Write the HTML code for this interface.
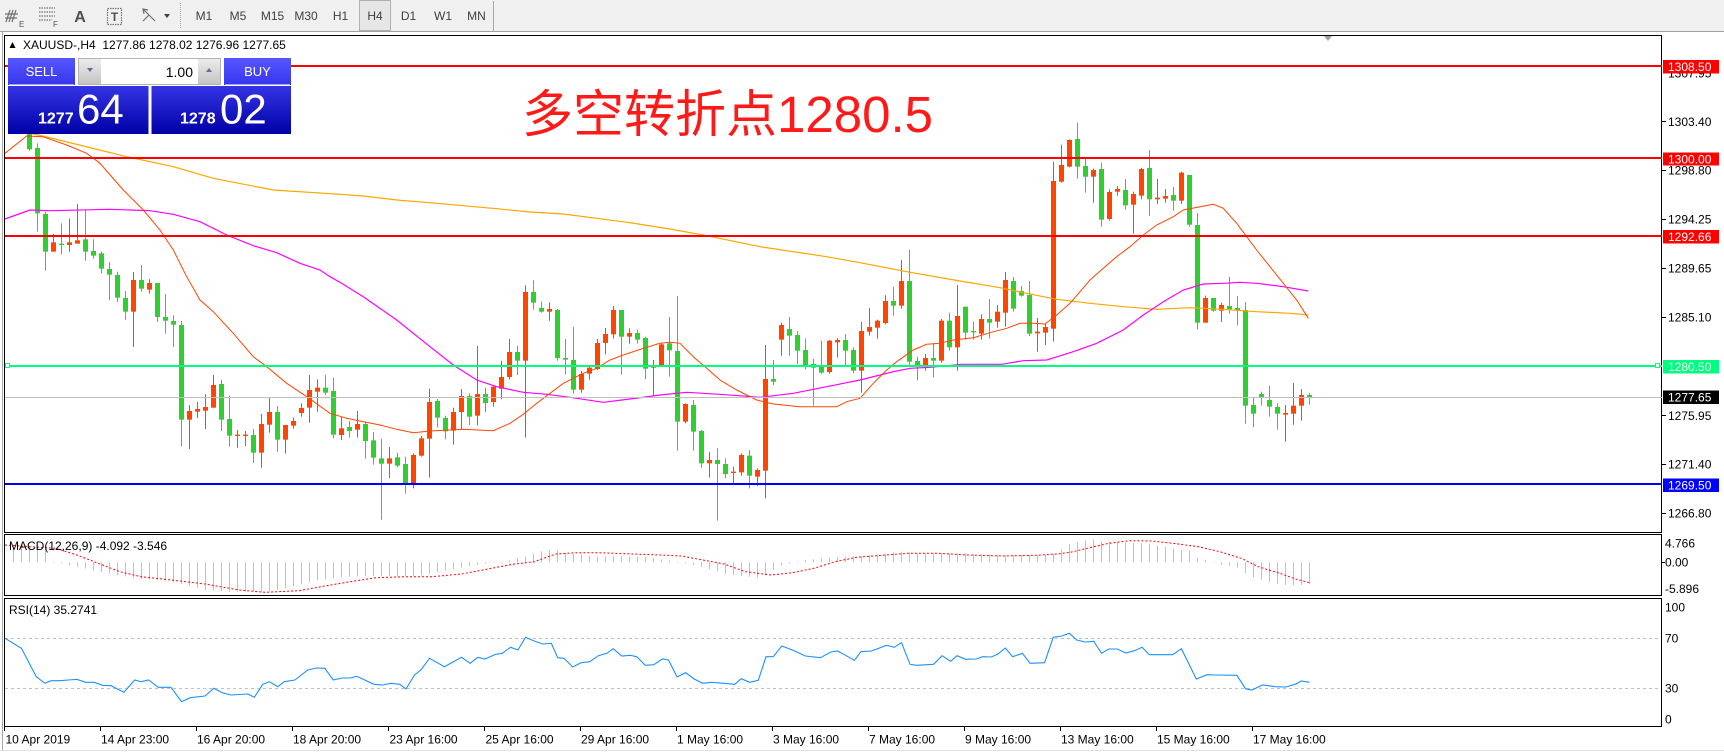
<!DOCTYPE html>
<html><head><meta charset="utf-8">
<style>
html,body{margin:0;padding:0;background:#fff;width:1724px;height:753px;overflow:hidden}
svg{position:absolute;left:0;top:0;font-family:"Liberation Sans","Noto Sans CJK SC",sans-serif}
</style></head>
<body>
<svg id="s" width="1724" height="753" viewBox="0 0 1724 753" xmlns="http://www.w3.org/2000/svg">
<defs>
<linearGradient id="gb" x1="0" y1="0" x2="0" y2="1"><stop offset="0" stop-color="#5656ff"/><stop offset="1" stop-color="#3636ee"/></linearGradient>
<linearGradient id="gp" x1="0" y1="0" x2="0" y2="1"><stop offset="0" stop-color="#3434e4"/><stop offset="1" stop-color="#0000a6"/></linearGradient>
<linearGradient id="gs" x1="0" y1="0" x2="0" y2="1"><stop offset="0" stop-color="#ececec"/><stop offset="1" stop-color="#c4c4c4"/></linearGradient>
</defs>
<rect x="0" y="0" width="1724" height="753" fill="#fff"/>
<!-- toolbar -->
<rect x="0" y="0" width="1724" height="31" fill="#f0f0f0"/>
<line x1="0" y1="31.5" x2="1724" y2="31.5" stroke="#a0a0a0"/>
<g stroke="#707070" fill="none" stroke-width="1.2">
<path d="M6 22 L10 10 M9 22 L13 10 M12 22 L16 10 M5 14 L18 14 M5 18 L17 18"/>
<path d="M39 8 H55 M39 12 H55 M39 16 H55 M39 20 H52" stroke-dasharray="1.5,1"/>
<rect x="107.5" y="8.5" width="14" height="16" stroke-dasharray="1.5,1"/>
<path d="M143 9 L149 15 L155 21 M143 21 L149 15 M148 10 L143 9 L144 14"/>
</g>
<text x="19" y="27" font-size="8" fill="#505050">E</text>
<text x="53" y="27" font-size="8" fill="#505050">F</text>
<text x="80" y="22" font-size="16" fill="#505050" text-anchor="middle" font-weight="bold">A</text>
<text x="114.5" y="21" font-size="12" fill="#505050" text-anchor="middle" font-weight="bold">T</text>
<path d="M164 14 L170 14 L167 18 Z" fill="#404040"/>
<line x1="180.5" y1="3" x2="180.5" y2="29" stroke="#a8a8a8" stroke-dasharray="1,1"/>
<line x1="493.5" y1="1" x2="493.5" y2="31" stroke="#a8a8a8"/>
<rect x="359.5" y="0.5" width="31" height="30" fill="#e6e6e6" stroke="#b0b0b0"/>
<g font-size="12" fill="#404040" text-anchor="middle">
<text x="204" y="20">M1</text><text x="238" y="20">M5</text><text x="272.5" y="20">M15</text><text x="306" y="20">M30</text><text x="340.5" y="20">H1</text><text x="375" y="20">H4</text><text x="408.5" y="20">D1</text><text x="443" y="20">W1</text><text x="476.5" y="20">MN</text>
</g>
<!-- frames -->
<line x1="2.5" y1="32" x2="2.5" y2="750" stroke="#a8a8a8"/>
<line x1="0" y1="750.5" x2="1724" y2="750.5" stroke="#e0e0e0"/>
<rect x="4.5" y="35.5" width="1657" height="497" fill="none" stroke="#000"/>
<rect x="4.5" y="534.5" width="1657" height="61" fill="none" stroke="#000"/>
<rect x="4.5" y="598.5" width="1657" height="128" fill="none" stroke="#000"/>
<line x1="5" y1="638.5" x2="1661" y2="638.5" stroke="#c0c0c0" stroke-dasharray="3,3"/>
<line x1="5" y1="688.5" x2="1661" y2="688.5" stroke="#c0c0c0" stroke-dasharray="3,3"/>
<path d="M1324 36 L1332 36 L1328 41 Z" fill="#a0a0a0"/>
<g id="dyn"></g>
<!-- horizontal objects -->
<rect x="5" y="65" width="1657" height="2" fill="#ff0000"/>
<rect x="5" y="157" width="1657" height="2" fill="#ff0000"/>
<rect x="5" y="235" width="1657" height="2" fill="#ff0000"/>
<rect x="5" y="365" width="1657" height="2" fill="#00ff7f"/>
<line x1="5" y1="397.5" x2="1662" y2="397.5" stroke="#c0c0c0"/>
<rect x="5" y="483" width="1657" height="2" fill="#0000ff"/>
<rect x="5.5" y="363.5" width="4" height="4" fill="#fff" stroke="#00ff7f"/>
<rect x="1655.5" y="363.5" width="4" height="4" fill="#fff" stroke="#00ff7f"/>
<!-- price axis -->
<g stroke="#000">
<line x1="1662" y1="121.5" x2="1666" y2="121.5"/><line x1="1662" y1="170.5" x2="1666" y2="170.5"/><line x1="1662" y1="219.5" x2="1666" y2="219.5"/><line x1="1662" y1="268.5" x2="1666" y2="268.5"/><line x1="1662" y1="317.5" x2="1666" y2="317.5"/><line x1="1662" y1="415.5" x2="1666" y2="415.5"/><line x1="1662" y1="464.5" x2="1666" y2="464.5"/><line x1="1662" y1="513.5" x2="1666" y2="513.5"/>
<line x1="1662" y1="562.5" x2="1665" y2="562.5"/>
</g>
<g font-size="12" fill="#000">
<text x="1668" y="77.5">1307.95</text>
<text x="1668" y="126">1303.40</text>
<text x="1668" y="174.5">1298.80</text>
<text x="1668" y="223.5">1294.25</text>
<text x="1668" y="272.5">1289.65</text>
<text x="1668" y="321.5">1285.10</text>
<text x="1668" y="420">1275.95</text>
<text x="1668" y="468.5">1271.40</text>
<text x="1668" y="517.5">1266.80</text>
<text x="1665" y="547.5">4.766</text>
<text x="1665" y="566.5">0.00</text>
<text x="1665" y="593">-5.896</text>
<text x="1665" y="611.5">100</text>
<text x="1665" y="642.5">70</text>
<text x="1665" y="692.5">30</text>
<text x="1665" y="723.5">0</text>
</g>
<rect x="1663" y="60" width="56" height="13.5" fill="#ff0000"/>
<rect x="1663" y="152.5" width="56" height="13" fill="#ff0000"/>
<rect x="1663" y="230" width="56" height="13.5" fill="#ff0000"/>
<rect x="1663" y="360" width="56" height="13.5" fill="#00ff7f"/>
<rect x="1663" y="390.5" width="56" height="13.5" fill="#000"/>
<rect x="1663" y="478.5" width="56" height="13.5" fill="#0000ff"/>
<g font-size="12" fill="#fff">
<text x="1668" y="71">1308.50</text>
<text x="1668" y="163.5">1300.00</text>
<text x="1668" y="241">1292.66</text>
<text x="1668" y="371">1280.50</text>
<text x="1668" y="401.5">1277.65</text>
<text x="1668" y="489.5">1269.50</text>
</g>
<!-- time axis -->
<g stroke="#000">
<line x1="4.5" y1="727" x2="4.5" y2="731"/><line x1="100.5" y1="727" x2="100.5" y2="731"/><line x1="196.5" y1="727" x2="196.5" y2="731"/><line x1="292.5" y1="727" x2="292.5" y2="731"/><line x1="388.5" y1="727" x2="388.5" y2="731"/><line x1="484.5" y1="727" x2="484.5" y2="731"/><line x1="580.5" y1="727" x2="580.5" y2="731"/><line x1="676.5" y1="727" x2="676.5" y2="731"/><line x1="772.5" y1="727" x2="772.5" y2="731"/><line x1="868.5" y1="727" x2="868.5" y2="731"/><line x1="964.5" y1="727" x2="964.5" y2="731"/><line x1="1060.5" y1="727" x2="1060.5" y2="731"/><line x1="1156.5" y1="727" x2="1156.5" y2="731"/><line x1="1252.5" y1="727" x2="1252.5" y2="731"/>
</g>
<g font-size="12" fill="#000">
<text x="5.5" y="743.5">10 Apr 2019</text>
<text x="101" y="743.5">14 Apr 23:00</text>
<text x="197" y="743.5">16 Apr 20:00</text>
<text x="293" y="743.5">18 Apr 20:00</text>
<text x="389.5" y="743.5">23 Apr 16:00</text>
<text x="485.5" y="743.5">25 Apr 16:00</text>
<text x="581" y="743.5">29 Apr 16:00</text>
<text x="677" y="743.5">1 May 16:00</text>
<text x="773" y="743.5">3 May 16:00</text>
<text x="869" y="743.5">7 May 16:00</text>
<text x="965" y="743.5">9 May 16:00</text>
<text x="1061" y="743.5">13 May 16:00</text>
<text x="1157" y="743.5">15 May 16:00</text>
<text x="1253" y="743.5">17 May 16:00</text>
</g>
<!-- indicator labels -->
<text x="9" y="550" font-size="12" fill="#000">MACD(12,26,9) -4.092 -3.546</text>
<text x="9" y="614" font-size="12" fill="#000">RSI(14) 35.2741</text>
<!-- title -->
<path d="M9.5 48 L15.5 48 L12.5 42 Z" fill="#000"/>
<text x="23" y="49" font-size="12" fill="#000" xml:space="preserve">XAUUSD-,H4  1277.86 1278.02 1276.96 1277.65</text>
<!-- trade panel -->
<rect x="8" y="58" width="283" height="76" fill="#fff"/>
<rect x="8" y="58" width="67" height="27" fill="url(#gb)"/>
<line x1="9" y1="84.5" x2="74" y2="84.5" stroke="#a0a0ff"/>
<rect x="224" y="58" width="67" height="27" fill="url(#gb)"/>
<line x1="225" y1="84.5" x2="290" y2="84.5" stroke="#a0a0ff"/>
<text x="41.5" y="76" font-size="13" fill="#fff" text-anchor="middle">SELL</text>
<text x="257.5" y="76" font-size="13" fill="#fff" text-anchor="middle">BUY</text>
<rect x="78.5" y="58.5" width="142" height="26" fill="#fff" stroke="#b4b4b4"/>
<rect x="79" y="59" width="22" height="25" fill="url(#gs)"/>
<rect x="198" y="59" width="22" height="25" fill="url(#gs)"/>
<path d="M87 68 L93 68 L90 72 Z" fill="#6a6a9a"/>
<path d="M206 72 L212 72 L209 68 Z" fill="#6a6a9a"/>
<text x="193" y="77" font-size="14" fill="#000" text-anchor="end">1.00</text>
<rect x="8" y="86" width="140.5" height="48" fill="url(#gp)"/>
<rect x="151.5" y="86" width="139.5" height="48" fill="url(#gp)"/>
<text x="38" y="123.5" font-size="16" font-weight="bold" fill="#fff">1277</text>
<text x="77" y="123.5" font-size="42" fill="#fff">64</text>
<text x="180" y="123.5" font-size="16" font-weight="bold" fill="#fff">1278</text>
<text x="220" y="123.5" font-size="42" fill="#fff">02</text>
<!-- annotation -->
<text x="522" y="132" font-size="51" fill="#ff1a1a" font-family="'Liberation Sans','Noto Sans CJK SC',sans-serif">多空转折点1280.5</text>
</svg>
<script>
(function(){
var NS='http://www.w3.org/2000/svg',g=document.getElementById('dyn');
function el(t,a){var e=document.createElementNS(NS,t);for(var k in a)e.setAttribute(k,a[k]);g.appendChild(e);return e;}
function poly(p,col,w,dash){var s=p.map(function(q){return q[0]+','+q[1]}).join(' ');var a={points:s,fill:'none',stroke:col,'stroke-width':w||1};if(dash)a['stroke-dasharray']=dash;el('polyline',a);}
function interp(p,x){if(x<=p[0][0])return p[0][1];for(var k=1;k<p.length;k++){if(x<=p[k][0]){var a=p[k-1],b=p[k];return a[1]+(b[1]-a[1])*(x-a[0])/(b[0]-a[0]);}}return p[p.length-1][1];}
var C=[
[0,60,60,118,122],[0,100,114,310,365],[0,305,312,425,482],[1,372,397,425,425],[0,340,401,405,432],[1,326,397,405,425],[1,282,391,401,401],[0,300,388,425,452],[0,388,423,437,446],[0,425,430,476,490],
[0,456,477,494,570],[0,485,495,563,576],[0,543,564,605,629],[1,486,510,605,711],[0,465,510,536,545],[1,508,519,539,551],[0,519,519,621,636],[0,552,621,632,671],[0,616,633,644,711],[0,633,645,929,1008],
[1,885,903,929,1017],[1,876,897,905,924],[1,853,891,902,957],[1,795,825,893,893],[0,810,822,929,963],[0,857,927,977,1010],[1,960,974,977,1013],[1,963,974,977,1008],[0,957,975,1028,1059],[1,912,942,1028,1073],
[1,863,906,944,968],[0,888,906,989,1025],[1,945,945,989,1031],[1,923,933,947,956],[1,880,894,909,920],[1,795,840,893,938],[1,808,833,845,905],[0,795,833,848,855],[0,804,843,974,985],[1,920,955,975,990],
[0,933,951,963,983],[1,903,942,959,983],[0,935,942,993,1046],[0,966,991,1043,1064],[0,987,1045,1061,1229],[1,1011,1045,1061,1104],[0,1028,1042,1067,1072],[0,1040,1062,1121,1151],[1,1030,1035,1119,1135],[1,978,985,1037,1040],
[1,836,876,986,1103],[0,867,873,923,952],[0,917,924,964,988],[1,893,906,962,1004],[1,837,858,906,958],[0,850,858,920,945],[1,708,852,917,946],[0,833,852,879,907],[1,826,830,876,890],[1,753,801,836,868],
[1,687,726,801,808],[0,708,726,752,795],[1,526,546,752,983],[0,511,546,578,599],[0,575,594,605,608],[1,577,597,605,632],[0,597,600,744,752],[0,687,744,749,793],[0,651,750,839,851],[1,783,792,839,848],
[1,765,773,791,809],[1,687,699,777,780],[1,654,672,699,733],[1,588,600,673,686],[0,600,600,680,794],[1,655,669,680,701],[0,659,669,689,701],[0,680,684,776,808],[1,750,765,773,858],[1,700,703,767,770],
[0,621,700,721,800],[0,558,723,935,1022],[1,880,882,935,940],[0,870,885,965,1022],[0,960,963,1060,1073],[1,1025,1050,1060,1103],[0,1015,1050,1062,1232],[0,1045,1062,1092,1105],[1,1070,1085,1088,1120],[1,1030,1035,1087,1097],
[0,1020,1037,1097,1135],[1,1075,1080,1100,1128],[1,705,807,1082,1165],[0,750,807,815,825],[1,638,645,689,737],[0,621,657,677,737],[0,663,675,722,762],[0,685,720,767,778],[0,747,762,773,887],[0,692,767,788,791],
[1,690,692,786,791],[1,685,690,697,743],[0,672,690,722,765],[0,712,720,782,790],[1,636,663,782,848],[1,594,651,665,677],[1,629,632,653,686],[1,556,573,639,643],[0,531,573,587,617],[1,450,513,587,596],
[0,420,513,755,770],[0,740,753,765,811],[1,732,744,765,782],[0,700,744,752,802],[1,627,632,752,758],[0,608,632,712,722],[1,525,618,712,782],[0,590,590,668,689],[0,635,663,667,689],[1,613,627,671,689],
[0,567,627,638,686],[1,585,605,635,653],[1,486,510,608,650],[0,501,513,596,605],[0,528,543,557,560],[0,513,555,671,678],[1,624,665,670,725],[1,640,651,668,705],[1,155,213,656,695],[1,104,165,215,218],
[1,88,90,170,172],[0,38,87,170,206],[0,145,168,200,248],[1,176,180,200,278],[0,158,177,329,350],[1,238,246,327,332],[1,228,237,245,257],[0,207,240,286,299],[1,245,252,284,371],[1,174,177,257,268],
[0,120,174,268,318],[1,207,263,268,282],[1,237,258,266,278],[0,231,255,272,302],[1,185,188,272,282],[0,195,195,344,350],[0,309,345,638,658],[1,557,564,638,638],[0,564,564,602,605],[1,578,585,602,636],
[0,500,588,598,611],[0,558,594,602,646],[0,576,600,887,941],[0,862,885,911,952],[0,845,852,862,887],[0,828,870,890,920],[0,879,891,911,959],[1,885,909,914,995],[1,819,887,911,944],[1,837,855,887,932],
[0,849,855,862,884]];
function Y(v){return 110+v/3;}
C.forEach(function(d,i){
 var x=29+8*i,col=d[0]?'#ff4500':'#32cd32';
 var wt=Y(d[1]),wb=Y(d[4]),bt=Y(d[2]),bb=Y(d[3]);
 if(bb-bt<1.3)bb=bt+1.3;
 el('rect',{x:x,y:wt,width:1,height:Math.max(1,wb-wt),fill:col});
 el('rect',{x:x-2,y:bt,width:5,height:bb-bt,fill:col});
});
// moving averages
poly([[29,133],[42.7,136],[126.7,156.7],[173.3,166.7],[213.3,178.3],[273.3,190],[340,194.3],[363.3,196],[396.7,200],[436.7,203.3],[496.7,208.7],[530,212],[563.3,214],[596.7,218.3],[630,222.7],[670,229],[706.7,235.7],[760,246.7],[826.7,256.7],[860,262.7],[906.7,271.7],[960,281],[1000,287.7],[1023.3,292.7],[1056.7,299.3],[1090,303.3],[1123.3,306.7],[1156.7,309.3],[1190,307.7],[1223.3,309.3],[1256.7,311.7],[1290,313.3],[1308.3,315]],'#ffa500',1.2);
poly([[5,219],[30,210],[50,210.7],[110,209.3],[150,210.7],[173.3,214.3],[200,221.7],[226.7,235],[253.3,245.7],[276.7,252.7],[300,263.3],[320,270],[330,276.7],[340,282.3],[363.3,296.7],[396.7,320],[430,346.7],[453.3,365],[476.7,380],[496.7,386.7],[523.3,392.3],[546.7,394.3],[570,397.3],[603.3,402.3],[630,399],[660,395],[686.7,392.3],[720,394.3],[760,397.3],[793.3,393.3],[826.7,386.7],[860,380],[893.3,371.7],[910,368.3],[930,367.3],[961.7,364.3],[1001.7,364.3],[1023.3,360.7],[1046.7,360],[1073.3,351.7],[1096.7,343.3],[1123.3,330],[1143.3,315],[1163.3,301.7],[1183.3,290],[1203.3,284],[1223.3,283.3],[1240,282.3],[1256.7,283.3],[1283.3,286.7],[1308.3,291]],'#ff00ff',1.2);
poly([[5,153.3],[26.7,136],[42.7,136.7],[66.7,145],[86.7,153.3],[100,163.3],[123.3,190],[143.3,210],[160,230],[173.3,250],[186.7,276.7],[200,300],[213.3,311.7],[233.3,333.3],[253.3,356.7],[266.7,366.7],[286.7,383.3],[306.7,396.7],[330,413.3],[346.7,418.3],[363.3,421.7],[380,425],[396.7,429.3],[413.3,432.7],[430,431],[463.3,429.3],[493.3,430.7],[510,423.3],[523.3,414.3],[536.7,403.3],[550,393.3],[563.3,383.3],[583.3,373.3],[596.7,368.3],[610,360],[623.3,355],[643.3,348.3],[660,343.3],[670,342.3],[680,343.3],[693.3,356.7],[706.7,368.3],[720,380],[736.7,390],[756.7,400],[773.3,404],[800,406.7],[836.7,406.7],[846.7,401.7],[860,398.3],[873.3,383.3],[886.7,370],[896.7,361.7],[913.3,350],[926.7,344.3],[940,343.3],[953.3,340],[973.3,337.7],[990,332.7],[1006.7,328.3],[1020,323.3],[1033.3,323.3],[1045,324],[1056.7,315],[1070,303.3],[1080,291.7],[1090,280],[1103.3,268.3],[1116.7,256.7],[1130,246.7],[1143.3,235],[1156.7,225],[1173.3,216.7],[1183.3,210],[1200,206.7],[1213.3,204.3],[1223.3,208.3],[1236.7,223.3],[1246.7,236.7],[1256.7,250],[1270,266.7],[1283.3,283.3],[1296.7,300],[1308.3,318.3]],'#ff4500',1);
// MACD histogram
var H=[[13,50],[21,48],[30,48],[37,50],[45,55],[53,95],[62,100],[68,105],[77,110],[85,115],[94,122],[103,127],[111,132],[120,137],[128,140],[137,145],[145,147],[160,150],[180,160],[205,180],[230,185],[260,185],[273,185],[278,180],[291,170],[301,163],[316,152],[333,145],[350,140],[365,138],[376,138],[389,138],[397,140],[406,138],[415,138],[423,135],[432,130],[444,122],[453,118],[462,113],[470,108],[479,104],[487,100],[496,97],[502,98],[509,92],[517,85],[526,80],[534,70],[543,63],[551,60],[556,60],[564,68],[575,72],[585,75],[594,80],[603,80],[611,78],[650,82],[660,88],[677,95],[694,105],[703,112],[711,118],[718,125],[726,133],[733,135],[741,138],[750,140],[758,143],[767,135],[773,120],[782,105],[790,100],[797,95],[805,90],[814,88],[822,85],[831,82],[840,80],[848,80],[861,78],[869,75],[878,72],[886,70],[895,65],[904,65],[916,70],[959,70],[1000,75],[1045,75],[1053,72],[1062,57],[1070,42],[1079,35],[1087,30],[1094,28],[1102,35],[1113,35],[1122,38],[1130,38],[1139,40],[1147,40],[1156,45],[1164,50],[1173,55],[1181,60],[1190,62],[1198,85],[1207,90],[1216,97],[1222,105],[1231,108],[1237,112],[1245,128],[1252,140],[1260,148],[1269,155],[1278,162],[1286,165],[1292,165],[1301,165],[1310,162]];
for(var i=-2;i<=160;i++){var x=29+8*i;var y=530+interp(H,x+0.5)/3;var z=562.3;var t=Math.min(y,z),h=Math.abs(y-z);if(h<0.6)h=0.6;el('rect',{x:x,y:t,width:1,height:h,fill:'#c0c0c0'});}
poly([[5,545],[55.6,548.3],[76.9,555],[98.3,563.3],[119.7,571.7],[141,576.7],[170.9,580],[205.1,584],[239.3,590],[265,592.3],[299.1,590.7],[324.8,586],[350.4,581.7],[376.1,577.7],[406,576.7],[431.6,576.7],[461.5,574],[491.5,568.3],[512.8,564.3],[534.2,561.7],[555.6,554],[576.9,552.7],[598.3,552.7],[632.5,554],[660,555],[681.4,556],[702.7,560],[724.1,564],[745.5,571.7],[771.1,575],[792.5,572.7],[813.8,568.3],[835.2,561.7],[856.6,557.3],[882.2,555.3],[907.9,553.3],[937.8,553.3],[967.7,555],[1001.9,556],[1036.1,555.3],[1057.4,554],[1070.3,552.3],[1087.4,548.3],[1108.7,543.3],[1130.1,540.7],[1151.5,541],[1172.8,543.3],[1198.5,546.7],[1219.8,551.7],[1241.2,558.3],[1258.3,566.7],[1279.7,573.3],[1296.7,579.3],[1309.6,582.7]],'#ff0000',1,'2,2');
// RSI
poly([[5,638.3],[21.4,648.3],[36.3,676.7],[44.9,683.3],[51.3,680.7],[59.8,680.7],[68.4,680],[76.9,679.3],[85.5,682.3],[94,682.3],[102.6,685.3],[111.1,685.7],[123.9,692.3],[134.6,680],[141,681.7],[148.7,680],[158.1,687.3],[170.9,687.3],[181.6,701.7],[190.2,697.7],[205.1,696],[213.7,688.3],[222.2,692.7],[230.8,695],[247.9,694],[254.3,697.3],[262.8,684.3],[269.2,681.7],[277.8,686.7],[284.2,681.7],[294.9,680],[307.7,670],[316.2,668],[324.8,668.3],[333.3,680],[341.9,678],[350.4,678],[356.8,676.3],[373.9,684.3],[382.5,685],[391,683.3],[399.6,684.3],[406,689],[414.5,675],[420.9,670],[429.5,658.3],[444.4,666.7],[461.5,657.3],[470.1,663.3],[477.8,657.3],[485,659],[495.7,654.3],[502.1,653.3],[510.7,647.3],[517.9,650],[525.6,637.3],[534.2,641],[542.7,644],[551.3,643.3],[557.7,657.7],[564.1,658.3],[572.6,667],[581.2,662.7],[589.7,661.7],[598.3,655.7],[606.8,653.3],[613.2,648.7],[621.8,656],[630.3,655.3],[636.8,656.7],[645.3,665.3],[653.8,664.7],[662.4,659],[668.5,660],[677.1,677],[685.6,672.7],[694.2,679],[702.7,683.3],[711.3,682.3],[724.1,683.3],[734.8,684.3],[741.2,678.7],[749.7,682.3],[758.3,680.3],[766,656.7],[773.2,656.7],[781.8,646],[792.5,650],[805.3,656],[820.3,657.7],[830.9,652],[837.4,651],[843.8,654.3],[854.4,660.3],[860.9,651.7],[871.5,651],[886.5,645.3],[894.2,647.3],[901.5,642.7],[910,664.3],[916.4,665.3],[933.5,664.3],[942.1,655.7],[950.6,661.3],[957,655.7],[965.6,659.3],[976.2,659],[982.6,656.7],[991.2,657],[997.6,654.3],[1005.3,648],[1012.6,656.7],[1022.4,653.3],[1030.1,663.3],[1044.6,662.7],[1053.2,637.3],[1061.7,636],[1069.4,633.3],[1076.7,640],[1085.2,642],[1093.8,641.3],[1101.5,653.3],[1108.7,649],[1117.3,649],[1125.8,653],[1134.4,650.7],[1142.1,647.3],[1149.3,654.7],[1172.8,654.7],[1181.4,648.7],[1196.3,679],[1207,674.7],[1215.6,675],[1236.9,675.3],[1245.5,688.7],[1251.9,690],[1262.6,685],[1275.4,686.7],[1286.1,687],[1296.7,683.7],[1301,681],[1309.6,682.3]],'#1e90ff',1.1);
})();
</script>
</body></html>
